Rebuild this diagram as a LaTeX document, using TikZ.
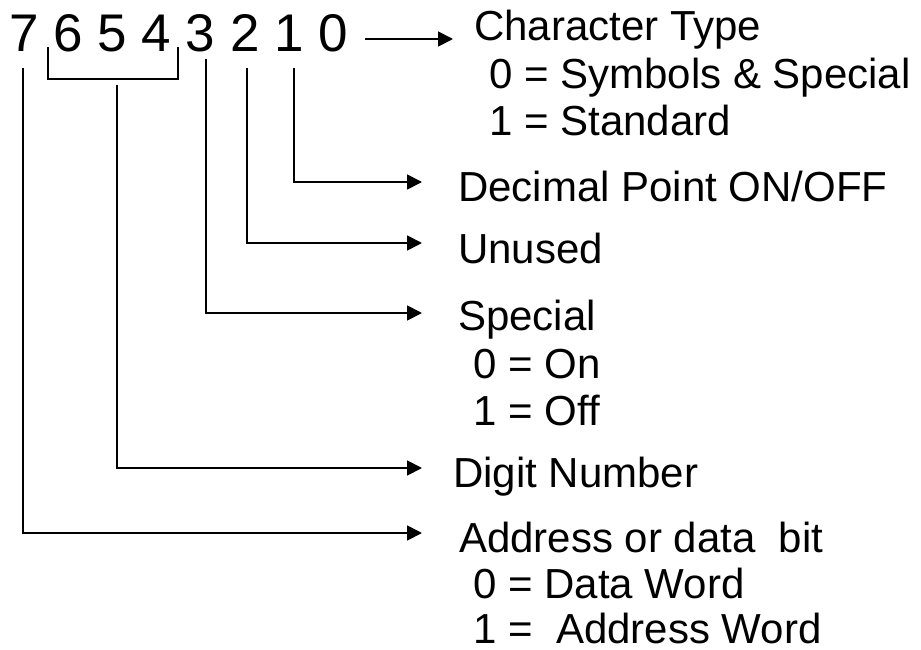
\documentclass[tikz,border=0pt]{standalone}
\usepackage{fontspec}
\setmainfont{Liberation Sans}
\usetikzlibrary{arrows.meta}
\begin{document}
\begin{tikzpicture}[x=1pt,y=-1pt,
  wire/.style={line width=1.8pt},
  arr/.style={wire,-{Triangle[length=15pt,width=15pt]}},
  bitdigit/.style={anchor=base,inner sep=0pt,font=\fontsize{53}{60}\selectfont},
  lbl/.style={anchor=base west,inner sep=0pt,font=\fontsize{42}{48}\selectfont}]
\useasboundingbox (0,0) rectangle (921,650);

% bit numbers of the control byte
\node[bitdigit] (d7) at (24,52)  {7};
\node[bitdigit] (d6) at (68,52)  {6};
\node[bitdigit] (d5) at (112,52) {5};
\node[bitdigit] (d4) at (156,52) {4};
\node[bitdigit] (d3) at (200,52) {3};
\node[bitdigit] (d2) at (245,52) {2};
\node[bitdigit] (d1) at (289,52) {1};
\node[bitdigit] (d0) at (333,52) {0};

% field descriptions
\node[lbl] (ctype)  at (474,41)  {Character Type};
\node[lbl] (ctype0) at (489,89)  {0 = Symbols \& Special};
\node[lbl] (ctype1) at (489,136) {1 = Standard};
\node[lbl] (dp)     at (458,201) {Decimal Point ON/OFF};
\node[lbl] (unused) at (458,263) {Unused};
\node[lbl] (spec)   at (458,330) {Special};
\node[lbl] (spec0)  at (473,378) {0 = On};
\node[lbl] (spec1)  at (473,425) {1 = Off};
\node[lbl] (digno)  at (453,487) {Digit Number};
\node[lbl] (addr)   at (459,552) {Address or data\ \ bit};
\node[lbl] (addr0)  at (473,598) {0 = Data Word};
\node[lbl] (addr1)  at (473,643) {1 =\ \ Address Word};

% start points below the bit numbers
\coordinate (s7) at (23,68);
\coordinate (s3) at (206,59);
\coordinate (s2) at (247,68);
\coordinate (s1) at (294,68);
\coordinate (s0) at (365,39);
\coordinate (s654) at (117,85);

% bracket grouping bits 6..4
\coordinate (bl)  at (48,47);
\coordinate (blc) at (48,79);
\coordinate (brc) at (178,79);
\coordinate (br)  at (178,47);
\draw[wire] (bl) -- (blc) -- (brc) -- (br);

% arrow tips in front of the descriptions
\coordinate (t0) at (453,39);
\coordinate (t1) at (422,182);
\coordinate (t2) at (422,243);
\coordinate (t3) at (422,313);
\coordinate (t654) at (422,468);
\coordinate (t7) at (422,533);

% connectors
\draw[arr] (s0) -- (t0);
\draw[arr] (s1) |- (t1);
\draw[arr] (s2) |- (t2);
\draw[arr] (s3) |- (t3);
\draw[arr] (s654) |- (t654);
\draw[arr] (s7) |- (t7);
\end{tikzpicture}
\end{document}
